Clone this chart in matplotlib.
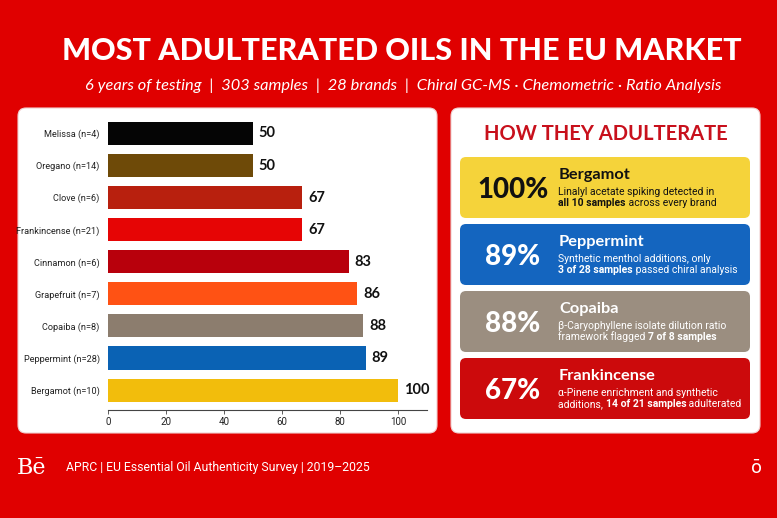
import matplotlib
matplotlib.use("Agg")
import matplotlib.pyplot as plt
from matplotlib.patches import FancyBboxPatch

# data
oils = ["Bergamot (n=10)", "Peppermint (n=28)", "Copaiba (n=8)", "Grapefruit (n=7)",
        "Cinnamon (n=6)", "Frankincense (n=21)", "Clove (n=6)", "Oregano (n=14)", "Melissa (n=4)"]
pct = [100, 89, 88, 86, 83, 67, 67, 50, 50]
bar_colors = ["#F2BD0C", "#0A62B4", "#8C7D6E", "#FF5214", "#B8000C",
              "#E60505", "#B8200E", "#6E4A08", "#050505"]
xticks = [0, 20, 40, 60, 80, 100]

card_names = ["Bergamot", "Peppermint", "Copaiba", "Frankincense"]
card_pct = [100, 89, 88, 67]
card_colors = ["#F5D33A", "#1465BF", "#9B8E80", "#CC0A0C"]
card_text_colors = ["#111111", "white", "white", "white"]
card_line1 = [
    [("Linalyl acetate spiking detected in", "normal")],
    [("Synthetic menthol additions, only", "normal")],
    [("\u03b2-Caryophyllene isolate dilution ratio", "normal")],
    [("\u03b1-Pinene enrichment and synthetic", "normal")],
]
card_line2 = [
    [("all 10 samples", "bold"), (" across every brand", "normal")],
    [("3 of 28 samples", "bold"), (" passed chiral analysis", "normal")],
    [("framework flagged ", "normal"), ("7 of 8 samples", "bold")],
    [("additions, ", "normal"), ("14 of 21 samples", "bold"), (" adulterated", "normal")],
]

RED = "#E00000"
fig = plt.figure(figsize=(7.77, 5.18), dpi=100)
fig.patch.set_facecolor(RED)

# background layer in pixel coords
bg = fig.add_axes([0, 0, 1, 1], zorder=0)
bg.set_xlim(0, 777)
bg.set_ylim(518, 0)
bg.axis("off")

bg.text(402, 51, "MOST ADULTERATED OILS IN THE EU MARKET", color="white",
        fontsize=22, fontweight="black", family="Lato", ha="center", va="center")
bg.text(403, 86, "6 years of testing  |  303 samples  |  28 brands  |  Chiral GC-MS \u00b7 Chemometric \u00b7 Ratio Analysis",
        color="white", fontsize=11.8, style="italic", family="Lato", ha="center", va="center")

for x0, x1 in [(18, 437), (451, 760)]:
    bg.add_patch(FancyBboxPatch((x0, 108), x1 - x0, 325,
                                boxstyle="round,pad=0,rounding_size=8",
                                fc="white", ec="#f0d0d0", lw=0.8))

bg.text(606, 134, "HOW THEY ADULTERATE", color="#C8101C", fontsize=14.5,
        fontweight="bold", family="Lato", ha="center", va="center")

card_top = [157, 224, 291, 358]
for i, name in enumerate(card_names):
    y0 = card_top[i]
    tc = card_text_colors[i]
    bg.add_patch(FancyBboxPatch((460, y0), 290, 61,
                                boxstyle="round,pad=0,rounding_size=6",
                                fc=card_colors[i], ec="none"))
    bg.text(513, y0 + 33, f"{card_pct[i]}%", color=tc, fontsize=20,
            fontweight="black", family="Lato", ha="center", va="center")
    bg.text(559, y0 + 18, name, color=tc, fontsize=11.8,
            fontweight="bold", family="Lato", ha="left", va="center")
    for line, ypos in [(card_line1[i], y0 + 40), (card_line2[i], y0 + 51)]:
        prev = None
        for txt, wt in line:
            if prev is None:
                prev = bg.text(558, ypos, txt, color=tc, fontsize=7.5, fontweight=wt,
                               family="Roboto", ha="left", va="bottom")
            else:
                prev = bg.annotate(txt, xy=(1, 0), xycoords=prev, color=tc, fontsize=7.5,
                                   fontweight=wt, family="Roboto", ha="left", va="bottom")

# footer
bg.text(17, 468, "B\u0113", color="white", fontsize=16, family="DejaVu Serif",
        ha="left", va="center")
bg.text(66, 468, "APRC | EU Essential Oil Authenticity Survey | 2019\u20132025", color="white",
        fontsize=8.8, family="Roboto", ha="left", va="center")
bg.text(756, 468, "\u014d", color="white", fontsize=13, family="DejaVu Sans",
        ha="center", va="center")

# bar chart
ax = fig.add_axes([0.139, 0.2085, 0.4105, 0.571], zorder=1)
ax.patch.set_alpha(0)
ypos = list(range(len(oils)))
ax.barh(ypos, pct, height=0.72, color=bar_colors)
for y, v in zip(ypos, pct):
    ax.text(v + 2, y, str(v), fontsize=10.5, fontweight="bold", family="Lato",
            color="#111111", va="center", ha="left")
ax.set_yticks(ypos)
ax.set_yticklabels(oils, fontsize=6.6, family="Roboto", color="#222222")
ax.set_xticks(xticks)
ax.set_xticklabels([str(t) for t in xticks], fontsize=7, family="Roboto", color="#222222")
ax.set_xlim(0, 110)
ax.set_ylim(-0.62, 8.6)
ax.tick_params(axis="y", length=0, pad=6)
ax.tick_params(axis="x", length=3, width=0.6, color="#444444", pad=2)
for s in ["top", "right", "left"]:
    ax.spines[s].set_visible(False)
ax.spines["bottom"].set_color("#444444")
ax.spines["bottom"].set_linewidth(0.8)

fig.savefig("out.png", dpi=100, facecolor=RED)
